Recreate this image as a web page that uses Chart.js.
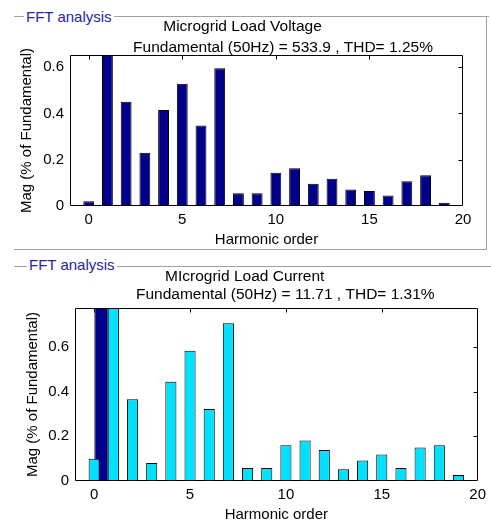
<!DOCTYPE html>
<html><head><meta charset="utf-8">
<script src="https://cdn.jsdelivr.net/npm/chart.js@4.4.1/dist/chart.umd.min.js"></script>
<style>
html,body{margin:0;padding:0;background:#fff;overflow:hidden;width:491px;height:520px;}
#wrap{position:relative;width:491px;height:520px;overflow:hidden;}
canvas{position:absolute;left:0;}
.hl{position:absolute;height:0;border-top:1px solid #a0a0a0;}
.vl{position:absolute;width:0;border-left:1px solid #a0a0a0;}
.pt{position:absolute;font:15px 'Liberation Sans',Arial,sans-serif;color:#2424a8;background:#fff;padding:0 2px;line-height:18px;white-space:nowrap;}
</style></head><body><div id="wrap">
<canvas id="c1" width="491" height="250" style="top:0;width:491px;height:250px"></canvas>
<canvas id="c2" width="491" height="275" style="top:255px;width:491px;height:275px"></canvas>
<div class="hl" style="left:14px;top:16px;width:475px"></div>
<div class="vl" style="left:486px;top:16px;height:233px"></div>
<div class="hl" style="left:14px;top:249px;width:473px"></div>
<div class="pt" style="left:24px;top:8px">FFT analysis</div>
<div class="hl" style="left:14px;top:266px;width:477px"></div>
<div class="pt" style="left:27px;top:256px">FFT analysis</div>
</div>
<script>
// ---- data ----
const harmonics = [0,1,2,3,4,5,6,7,8,9,10,11,12,13,14,15,16,17,18,19];
const voltageMag = [0.02,100,0.45,0.23,0.415,0.528,0.348,0.595,0.055,0.055,0.144,0.163,0.096,0.118,0.071,0.065,0.045,0.107,0.133,0.014];
const currentMag = [0.10,100,0.366,0.081,0.445,0.583,0.322,0.707,0.058,0.058,0.160,0.181,0.139,0.053,0.092,0.119,0.058,0.150,0.160,0.027];
const currentLeakHarmonic = [0.37];
const currentLeakMag = [100];
const xTicks = [0,5,10,15,20];
const yTicks = [0,0.2,0.4,0.6];
const voltageTitle = ['Microgrid Load Voltage','Fundamental (50Hz) = 533.9 , THD= 1.25%'];
const currentTitle = ['MIcrogrid Load Current','Fundamental (50Hz) = 11.71 , THD= 1.31%'];
const xLabel = 'Harmonic order';
const yLabel = 'Mag (% of Fundamental)';

const FONT = "'Liberation Sans', Arial, sans-serif";
const NAVY = '#00008b';
const CYAN = '#00e1ff';

const framePlugin = {
  id: 'frame',
  afterDatasetsDraw(chart) {
    const {ctx, chartArea: a, scales} = chart;
    const L = Math.round(a.left) + 0.5, R = Math.round(a.right) - 0.5;
    const T = Math.round(a.top) + 0.5, B = Math.round(a.bottom) - 0.5;
    ctx.save();
    ctx.strokeStyle = '#000';
    ctx.lineWidth = 1;
    ctx.beginPath();
    ctx.rect(L, T, R - L, B - T);
    scales.x.ticks.forEach(t => {
      const px = Math.round(scales.x.getPixelForValue(t.value)) + 0.5;
      if (px > L + 1 && px < R - 1) { ctx.moveTo(px, T); ctx.lineTo(px, T + 4); }
    });
    scales.y.ticks.forEach(t => {
      const py = Math.round(scales.y.getPixelForValue(t.value)) + 0.5;
      if (py > T + 1 && py < B - 1) { ctx.moveTo(R, py); ctx.lineTo(R - 4, py); }
    });
    ctx.stroke();
    ctx.restore();
  }
};

const titlePlugin = {
  id: 'twoLineTitle',
  afterDraw(chart, args, opts) {
    const ctx = chart.ctx;
    ctx.save();
    ctx.font = '15.5px ' + FONT;
    ctx.fillStyle = '#000';
    ctx.textAlign = 'center';
    ctx.textBaseline = 'middle';
    opts.text.forEach((t, i) => ctx.fillText(t, opts.pos[i][0], opts.pos[i][1]));
    ctx.restore();
  }
};

function setTicks(list) {
  return s => { s.ticks = list.map(v => ({value: v})); };
}

function makeChart(id, cfg) {
  const font = {family: FONT, size: 15};
  const datasets = [{
    data: harmonics.map((h, i) => ({x: h, y: cfg.values[i]})),
    backgroundColor: cfg.color, borderColor: '#000', borderWidth: 1, borderSkipped: false,
    barPercentage: 0.58, categoryPercentage: 1, grouped: false, order: 1, xAxisID: 'x'
  }];
  if (cfg.extra) datasets.push(cfg.extra);
  const scales = {
    x: {
      type: 'linear', min: -1, max: 20, offset: false,
      grid: {display: false, drawTicks: false}, border: {display: false},
      afterBuildTicks: setTicks(xTicks),
      ticks: {font, color: '#000', padding: 5, maxRotation: 0, autoSkip: false},
      title: {display: true, text: xLabel, font, color: '#000', padding: {top: 0, bottom: cfg.xtpb}},
      afterFit: s => { s.height = cfg.xh; }
    },
    y: {
      type: 'linear', min: 0, max: cfg.ymax,
      grid: {display: false, drawTicks: false}, border: {display: false},
      afterBuildTicks: setTicks(yTicks),
      ticks: {font, color: '#000', padding: 6},
      title: {display: true, text: yLabel, font, color: '#000', padding: {top: cfg.ytpt, bottom: 0}},
      afterFit: s => { s.width = cfg.yw; }
    }
  };
  if (cfg.extra) {
    scales.xn = {
      type: 'linear', min: -1, max: 20, offset: false, display: false,
      afterBuildTicks: setTicks(xTicks)
    };
  }
  return new Chart(document.getElementById(id), {
    type: 'bar',
    data: {datasets},
    options: {
      responsive: false, animation: false, devicePixelRatio: 1,
      layout: {padding: cfg.pad},
      plugins: {
        legend: {display: false}, tooltip: {enabled: false}, title: {display: false},
        twoLineTitle: {text: cfg.title, pos: cfg.titlePos}
      },
      scales
    },
    plugins: [framePlugin, titlePlugin]
  });
}

makeChart('c1', {
  values: voltageMag, color: NAVY, ymax: 0.652,
  pad: {left: 0, top: 55, right: 28, bottom: 0},
  yw: 70, xh: 44, xtpb: 1, ytpt: 18,
  title: voltageTitle, titlePos: [[242.5, 27], [283, 47.5]]
});

const leakWidth = 0.73;
makeChart('c2', {
  values: currentMag, color: CYAN, ymax: 0.775,
  pad: {left: 0, top: 53, right: 8, bottom: 0},
  yw: 75, xh: 49, xtpb: 6.5, ytpt: 23.5,
  title: currentTitle, titlePos: [[244.7, 21.3], [285.3, 39.5]],
  extra: {
    data: currentLeakHarmonic.map((h, i) => ({x: h, y: currentLeakMag[i]})),
    backgroundColor: NAVY, borderColor: '#333', borderWidth: 1, borderSkipped: false,
    barPercentage: leakWidth / (xTicks[1] - xTicks[0]), categoryPercentage: 1,
    grouped: false, order: 2, xAxisID: 'xn'
  }
});
</script>
</body></html>
